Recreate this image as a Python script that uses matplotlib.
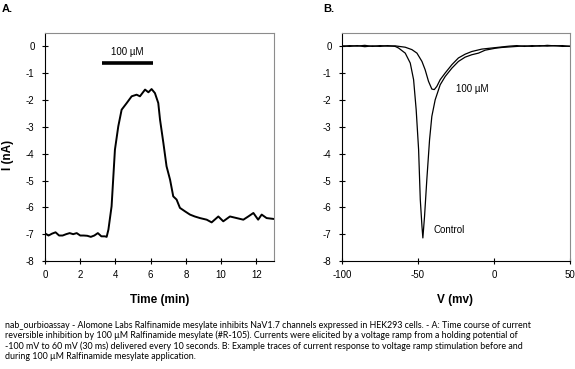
import matplotlib
matplotlib.use('Agg')
import matplotlib.pyplot as plt

# Panel A: current vs time
time_min = [0.0, 0.2, 0.4, 0.6, 0.8, 1.0, 1.2, 1.4, 1.6, 1.8, 2.0, 2.2, 2.4, 2.6, 2.8,
            3.0, 3.2, 3.4, 3.5, 3.6, 3.78, 3.97, 4.16, 4.35, 4.64, 4.92, 5.2, 5.39,
            5.68, 5.87, 6.05, 6.24, 6.43, 6.53, 6.72, 6.9, 7.1, 7.28, 7.47, 7.66, 7.95,
            8.23, 8.5, 8.8, 9.18, 9.46, 9.84, 10.12, 10.5, 10.88, 11.26, 11.54, 11.83,
            12.1, 12.3, 12.58, 12.96]
current_a = [-6.97, -7.05, -6.98, -6.93, -7.05, -7.05, -7.0, -6.96, -7.0, -6.96, -7.05,
             -7.05, -7.06, -7.1, -7.05, -6.96, -7.08, -7.08, -7.1, -6.83, -5.96, -3.85,
             -2.98, -2.36, -2.11, -1.86, -1.80, -1.86, -1.61, -1.71, -1.59, -1.74, -2.11,
             -2.73, -3.6, -4.47, -4.97, -5.59, -5.71, -6.02, -6.15, -6.27, -6.34, -6.4,
             -6.46, -6.56, -6.34, -6.52, -6.34, -6.4, -6.46, -6.34, -6.21, -6.46, -6.27,
             -6.4, -6.43]
bar_start, bar_end, bar_level = 3.22, 6.11, -0.62

# Panel B: ramp traces
v_control = [-100, -95, -90, -85, -80, -75, -70, -65, -62.8, -58.4, -55.1, -52.9, -51.2,
             -49.6, -48.5, -47.4, -46.8, -45.7, -44.2, -42.4, -40.9, -38.7, -35.4, -32.1,
             -27.7, -23.4, -19.0, -14.6, -10.2, -5.8, 0.7, 5, 10, 15, 20, 25, 30, 35, 40,
             45, 50]
i_control = [0.02, 0.0, 0.03, -0.01, 0.02, 0.0, 0.03, 0.0, -0.06, -0.25, -0.62, -1.24,
             -2.36, -3.85, -5.71, -6.7, -7.14, -6.34, -4.97, -3.48, -2.61, -1.99, -1.43,
             -1.12, -0.81, -0.56, -0.40, -0.31, -0.25, -0.14, -0.07, -0.04, -0.02, 0.0,
             0.02, 0.0, 0.03, 0.01, 0.03, 0.0, 0.01]
v_drug = [-100, -95, -90, -85, -80, -75, -70, -65, -58.4, -54.0, -50.7, -47.4, -45.3,
          -43.1, -40.9, -39.3, -37.6, -35.4, -32.1, -27.7, -23.4, -19.0, -14.6, -8.0,
          -1.5, 5, 10, 15, 20, 25, 30, 35, 40, 45, 50]
i_drug = [0.0, 0.03, 0.01, 0.04, 0.0, 0.03, 0.01, 0.02, -0.03, -0.12, -0.25, -0.56, -0.87,
          -1.3, -1.59, -1.61, -1.49, -1.24, -0.99, -0.68, -0.43, -0.29, -0.19, -0.1,
          -0.06, -0.02, 0.01, 0.03, 0.0, 0.03, 0.01, 0.04, 0.02, 0.03, 0.0]

caption = ("nab_ourbioassay - Alomone Labs Ralfinamide mesylate inhibits NaV1.7 channels expressed in HEK293 cells. - A: Time course of current\n"
           "reversible inhibition by 100 \u00b5M Ralfinamide mesylate (#R-105). Currents were elicited by a voltage ramp from a holding potential of\n"
           "-100 mV to 60 mV (30 ms) delivered every 10 seconds. B: Example traces of current response to voltage ramp stimulation before and\n"
           "during 100 \u00b5M Ralfinamide mesylate application.")

plt.rcParams['font.family'] = ['Liberation Sans', 'DejaVu Sans']
plt.rcParams['axes.unicode_minus'] = False

fig = plt.figure(figsize=(5.75, 3.69), dpi=100)
W, H = 575.0, 369.0
ax1 = fig.add_axes([45 / W, 1 - 261 / H, 229 / W, 228 / H])
ax2 = fig.add_axes([342 / W, 1 - 261 / H, 228 / W, 228 / H])

ax1.plot(time_min, current_a, color='black', lw=1.4)
ax1.plot([bar_start, bar_end], [bar_level, bar_level], color='black', lw=2.6, solid_capstyle='butt')
ax1.text((bar_start + bar_end) / 2, -0.22, '100 \u00b5M', ha='center', va='center', fontsize=7)
ax1.set_xlim(0, 13)
ax1.set_xticks([0, 2, 4, 6, 8, 10, 12])

ax2.plot(v_control, i_control, color='black', lw=0.9)
ax2.plot(v_drug, i_drug, color='black', lw=0.9)
ax2.text(-14.2, -1.6, '100 \u00b5M', ha='center', va='center', fontsize=7)
ax2.text(-29.5, -6.86, 'Control', ha='center', va='center', fontsize=7)
ax2.set_xlim(-100, 50)
ax2.set_xticks([-100, -50, 0, 50])

for ax in (ax1, ax2):
    ax.set_ylim(-8, 0.5)
    ax.set_yticks(range(-8, 1))
    for s in ax.spines.values():
        s.set_color('#8c8c8c')
        s.set_linewidth(0.8)
    ax.spines['left'].set_color('black')
    ax.spines['bottom'].set_color('black')
    ax.tick_params(direction='inout', length=5, width=0.8, labelsize=7)
    ax.tick_params(axis='y', pad=5)
    ax.tick_params(axis='x', pad=4)

fig.text(2 / W, 1 - 9 / H, 'A.', fontsize=8, fontweight='bold', va='center')
fig.text(323 / W, 1 - 9 / H, 'B.', fontsize=8, fontweight='bold', va='center')
fig.text(160 / W, 1 - 300 / H, 'Time (min)', fontsize=8.5, fontweight='bold', ha='center', va='center')
fig.text(455 / W, 1 - 300 / H, 'V (mv)', fontsize=8.5, fontweight='bold', ha='center', va='center')
fig.text(8 / W, 1 - 155 / H, 'I (nA)', fontsize=8.5, fontweight='bold', ha='center', va='center', rotation=90)
fig.text(5 / W, 1 - 321 / H, caption, fontsize=6.4, family='Lato', ha='left', va='top', linespacing=1.12)

fig.savefig('out.png', dpi=100)
